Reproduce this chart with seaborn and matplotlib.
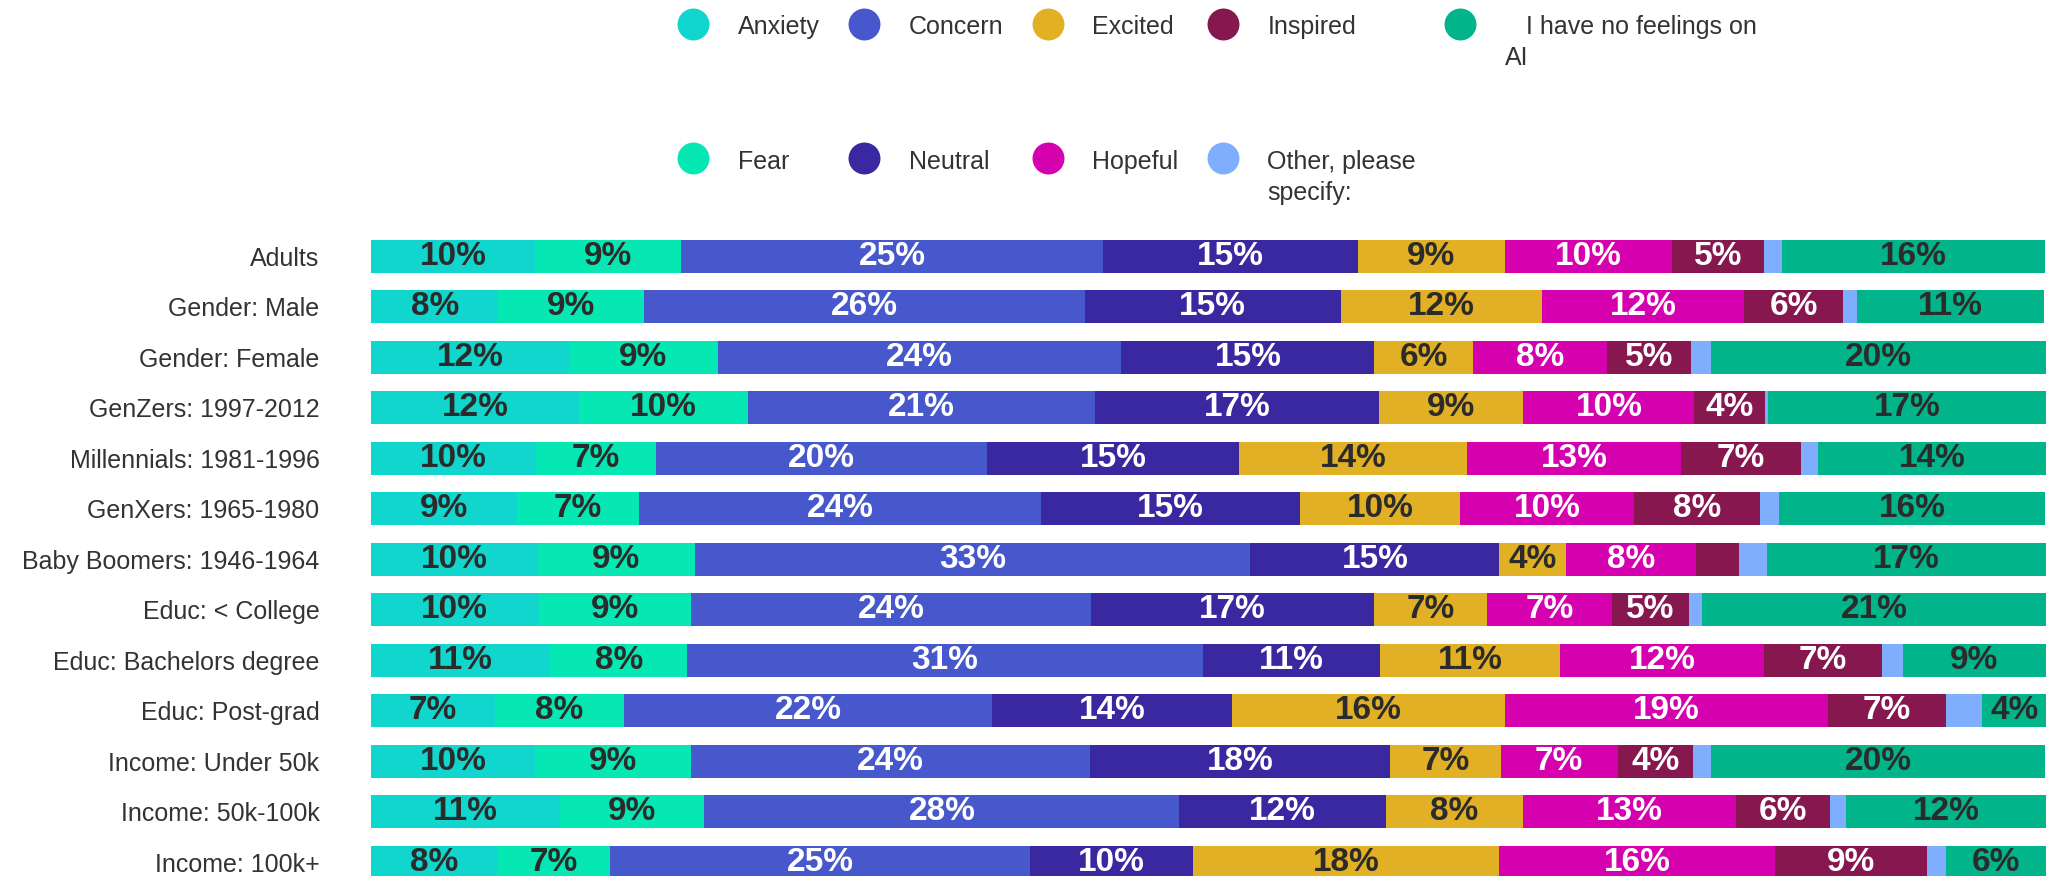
import numpy as np
import pandas as pd
import matplotlib
matplotlib.use("Agg")
import matplotlib.pyplot as plt
import seaborn as sns
from matplotlib.lines import Line2D
from matplotlib.legend_handler import HandlerLine2D

# ---------------- data ----------------
groups = ["Adults", "Gender: Male", "Gender: Female", "GenZers: 1997-2012",
          "Millennials: 1981-1996", "GenXers: 1965-1980", "Baby Boomers: 1946-1964",
          "Educ: < College", "Educ: Bachelors degree", "Educ: Post-grad",
          "Income: Under 50k", "Income: 50k-100k", "Income: 100k+"]

series_names = ["Anxiety", "Fear", "Concern", "Neutral", "Excited", "Hopeful",
                "Inspired", "Other, please specify:", "I have no feelings on AI"]

anxiety  = [9.8, 7.6, 11.8, 12.4, 9.86, 8.71, 9.89, 10.0, 10.69, 7.38, 9.78, 11.31, 7.54]
fear     = [8.7, 8.7, 8.9, 10.1, 7.15, 7.30, 9.45, 9.1, 8.19, 7.73, 9.32, 8.6, 6.74]
concern  = [25.2, 26.3, 24.1, 20.7, 19.78, 24.0, 33.15, 23.88, 30.78, 21.97, 23.82, 28.35, 25.09]
neutral  = [15.2, 15.3, 15.1, 17.0, 15.03, 15.45, 14.88, 16.9, 10.57, 14.35, 17.9, 12.31, 9.71]
excited  = [8.8, 12.0, 5.9, 8.6, 13.62, 9.55, 3.97, 6.74, 10.78, 16.25, 6.64, 8.19, 18.28]
hopeful  = [10.0, 12.1, 8.0, 10.2, 12.77, 10.40, 7.75, 7.47, 12.15, 19.31, 6.96, 12.74, 16.45]
inspired = [5.45, 5.9, 5.0, 4.2, 7.17, 7.52, 2.57, 4.6, 7.05, 7.01, 4.49, 5.62, 9.08]
other    = [1.1, 0.8, 1.2, 0.2, 1.02, 1.14, 1.67, 0.78, 1.24, 2.19, 1.07, 0.91, 1.15]
no_feel  = [15.7, 11.2, 20.0, 16.6, 13.6, 15.87, 16.67, 20.52, 8.55, 3.82, 19.99, 11.99, 5.96]

series_values = [anxiety, fear, concern, neutral, excited, hopeful, inspired, other, no_feel]

colors = ["#10D6CE", "#05E8B4", "#4658CC", "#3A28A0", "#E2B024",
          "#D500AE", "#86174F", "#7FAEFF", "#02B48A"]
label_colors = ["#2b2b2b", "#2b2b2b", "white", "white", "#2b2b2b",
                "white", "white", "#2b2b2b", "#2b2b2b"]

# legend texts as wrapped in the reference (every entry laid out on two lines)
legend_labels = ["Anxiety\n", "Fear\n", "Concern\n", "Neutral\n", "Excited\n", "Hopeful\n",
                 "Inspired\n", "Other, please\nspecify:", "   I have no feelings on\nAI"]

# ---------------- style ----------------
sns.set_style("white")
plt.rcParams["font.family"] = ["Liberation Sans", "DejaVu Sans"]
text_color = "#333333"

W, H = 2046, 876
fig = plt.figure(figsize=(W / 100, H / 100), dpi=100)
ax = fig.add_axes([371 / W, 0, (W - 371) / W, (876 - 230) / H])

left = np.zeros(len(groups))
for name, vals, col in zip(series_names, series_values, colors):
    sns.barplot(x=vals, y=groups, order=groups, orient="h", color=col,
                left=left.copy(), width=0.65, errorbar=None, saturation=1,
                linewidth=0, ax=ax)
    left = left + np.array(vals)

# value labels
left = np.zeros(len(groups))
for vals, lc in zip(series_values, label_colors):
    for i, v in enumerate(vals):
        if v >= 3:
            ax.text(left[i] + v / 2, i, f"{v:.0f}%", ha="center", va="center",
                    fontsize=24, fontweight="bold", color=lc)
    left = left + np.array(vals)

ax.set_xlim(0, 100)
ax.set_ylim(12.271, -0.523)
ax.set_xlabel("")
ax.set_ylabel("")
ax.set_xticks([])
for s in ax.spines.values():
    s.set_visible(False)
ax.tick_params(axis="y", length=0, pad=37, labelsize=18, labelcolor=text_color)


# legend: marker placed level with the first text line
class FirstLineHandler(HandlerLine2D):
    def __init__(self, dy, **kw):
        super().__init__(**kw)
        self.dy = dy

    def create_artists(self, legend, orig_handle, xdescent, ydescent,
                       width, height, fontsize, trans):
        arts = super().create_artists(legend, orig_handle, xdescent, ydescent,
                                      width, height, fontsize, trans)
        for a in arts:
            a.set_ydata(np.asarray(a.get_ydata(), dtype=float) + self.dy)
        return arts


handles = [Line2D([], [], marker="o", linestyle="", markersize=23,
                  markerfacecolor=c, markeredgewidth=0) for c in colors]
leg = fig.legend(handles, legend_labels, ncol=5, loc="upper left",
                 bbox_to_anchor=(676.75 / W, 0.9824), frameon=False, fontsize=18,
                 handlelength=1.3, handletextpad=1.14, columnspacing=1.12,
                 labelspacing=3.17, borderpad=0, borderaxespad=0,
                 labelcolor=text_color,
                 handler_map={Line2D: FirstLineHandler(dy=14.1)})
for t in leg.get_texts():
    t.set_linespacing(1.37)

fig.savefig("out.png", dpi=100)
